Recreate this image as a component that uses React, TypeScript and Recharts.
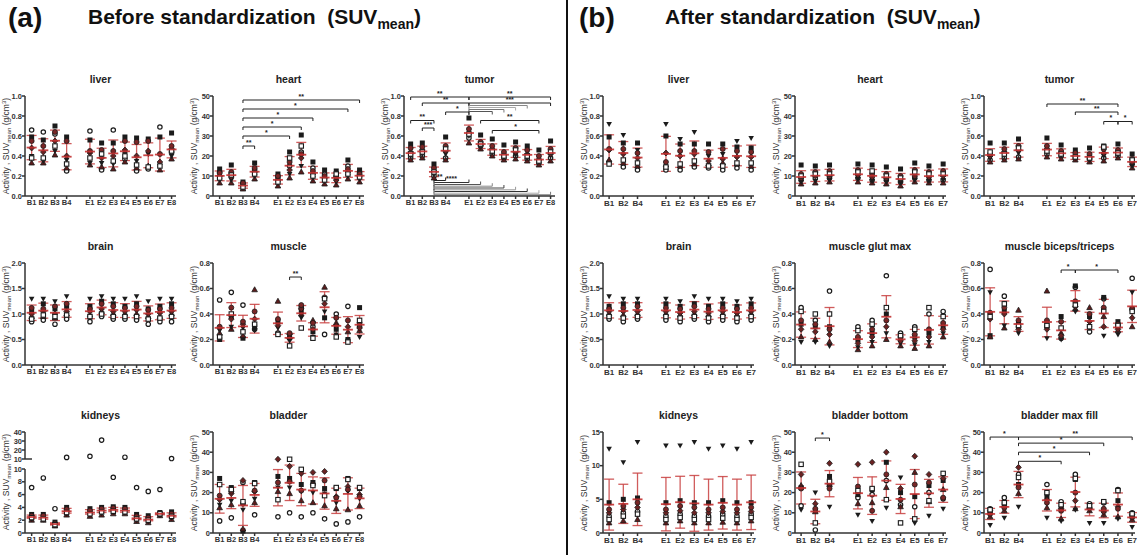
import React from 'react';
import { ScatterChart, Scatter, XAxis, YAxis, ErrorBar, ReferenceLine } from 'recharts';

// ---------- categories ----------
const CATS_A = ['B1', 'B2', 'B3', 'B4', 'E1', 'E2', 'E3', 'E4', 'E5', 'E6', 'E7', 'E8'];
const POS_A = [1, 2, 3, 4, 6, 7, 8, 9, 10, 11, 12, 13];
const CATS_B = ['B1', 'B2', 'B4', 'E1', 'E2', 'E3', 'E4', 'E5', 'E6', 'E7'];
const POS_B = [1, 2, 3, 5, 6, 7, 8, 9, 10, 11];

// ---------- tick labels ----------
const T_1 = [0, 0.2, 0.4, 0.6, 0.8, 1.0];
const T_2 = [0, 0.5, 1.0, 1.5, 2.0];
const T_08 = [0, 0.2, 0.4, 0.6, 0.8];
const T_50 = [0, 10, 20, 30, 40, 50];
const T_K_LOW = [0, 2, 4, 6, 8, 10];
const T_K_UP = [10, 20, 30, 40];
const T_15 = [0, 5, 10, 15];

// each row: values of animals per category
// [open circle, black square, triangle, inv. triangle, diamond, red circle, open square]
const liverA = [
  [0.66, 0.59, 0.33, 0.40, 0.48, 0.55, 0.38],
  [0.64, 0.56, 0.33, 0.35, 0.44, 0.50, 0.38],
  [0.62, 0.70, 0.41, 0.45, 0.55, 0.64, 0.50],
  [0.25, 0.59, 0.28, 0.36, 0.40, 0.55, 0.32],
  [0.65, 0.56, 0.31, 0.33, 0.43, 0.45, 0.38],
  [0.26, 0.53, 0.29, 0.33, 0.38, 0.46, 0.42],
  [0.66, 0.53, 0.27, 0.32, 0.40, 0.45, 0.35],
  [0.37, 0.59, 0.34, 0.42, 0.46, 0.55, 0.40],
  [0.25, 0.58, 0.28, 0.35, 0.40, 0.54, 0.31],
  [0.27, 0.57, 0.30, 0.42, 0.45, 0.55, 0.29],
  [0.69, 0.59, 0.26, 0.30, 0.34, 0.42, 0.30],
  [0.44, 0.63, 0.37, 0.40, 0.47, 0.50, 0.45],
];
const heartA = [
  [12, 13.5, 6.5, 8, 10, 11.5, 9],
  [11, 15.5, 6.5, 8, 9.5, 12, 10.5],
  [6, 7, 3.5, 4, 5, 6.5, 4.5],
  [13, 16.5, 8.5, 10, 12, 14, 11],
  [9, 11, 5, 6.5, 8, 10, 7],
  [15, 22, 9, 11, 13, 17, 19],
  [22, 30.5, 12, 15, 19, 21, 25],
  [14, 17, 7.5, 9, 11, 12.5, 10],
  [11, 13, 6, 7.5, 9, 10, 8],
  [10, 12.5, 5.5, 7, 8, 9.5, 11],
  [15, 18, 8.5, 10, 12, 13.5, 11],
  [12, 13, 7, 8.5, 10, 11, 9.5],
];
const tumorA = [
  [0.38, 0.52, 0.36, 0.40, 0.44, 0.48, 0.42],
  [0.40, 0.53, 0.38, 0.42, 0.46, 0.49, 0.44],
  [0.20, 0.32, 0.18, 0.22, 0.25, 0.28, 0.24],
  [0.38, 0.59, 0.36, 0.42, 0.45, 0.50, 0.47],
  [0.58, 0.78, 0.53, 0.60, 0.63, 0.67, 0.62],
  [0.50, 0.61, 0.47, 0.49, 0.51, 0.54, 0.52],
  [0.42, 0.57, 0.40, 0.44, 0.47, 0.50, 0.45],
  [0.38, 0.51, 0.36, 0.39, 0.41, 0.44, 0.40],
  [0.40, 0.54, 0.37, 0.41, 0.44, 0.48, 0.46],
  [0.37, 0.50, 0.35, 0.38, 0.42, 0.46, 0.40],
  [0.33, 0.46, 0.31, 0.34, 0.36, 0.40, 0.35],
  [0.38, 0.55, 0.35, 0.40, 0.42, 0.47, 0.44],
];
const brainA = [
  [0.85, 1.05, 0.95, 1.30, 1.00, 1.12, 0.90],
  [0.88, 1.20, 0.95, 1.30, 1.05, 1.10, 0.98],
  [0.80, 1.10, 0.92, 1.25, 1.00, 1.15, 0.95],
  [0.90, 1.15, 1.00, 1.35, 1.05, 1.20, 0.98],
  [0.85, 1.15, 0.98, 1.30, 1.05, 1.10, 0.95],
  [0.95, 1.25, 1.05, 1.35, 1.10, 1.20, 1.00],
  [0.90, 1.20, 1.00, 1.30, 1.05, 1.15, 0.95],
  [0.90, 1.15, 1.00, 1.30, 1.05, 1.12, 0.95],
  [0.88, 1.20, 1.00, 1.35, 1.08, 1.15, 0.95],
  [0.80, 1.10, 0.95, 1.25, 1.00, 1.08, 0.90],
  [0.85, 1.15, 0.95, 1.30, 1.02, 1.10, 0.92],
  [0.85, 1.20, 1.00, 1.30, 1.05, 1.12, 0.95],
];
const muscleA = [
  [0.51, 0.20, 0.25, 0.27, 0.29, 0.30, 0.22],
  [0.57, 0.38, 0.28, 0.30, 0.36, 0.45, 0.40],
  [0.47, 0.21, 0.23, 0.29, 0.32, 0.34, 0.26],
  [0.28, 0.30, 0.59, 0.27, 0.36, 0.42, 0.32],
  [0.25, 0.34, 0.50, 0.29, 0.31, 0.36, 0.24],
  [0.21, 0.23, 0.22, 0.19, 0.24, 0.25, 0.15],
  [0.45, 0.42, 0.40, 0.37, 0.44, 0.47, 0.29],
  [0.30, 0.26, 0.35, 0.22, 0.28, 0.33, 0.21],
  [0.24, 0.37, 0.61, 0.42, 0.48, 0.53, 0.52],
  [0.40, 0.28, 0.33, 0.24, 0.31, 0.37, 0.22],
  [0.46, 0.20, 0.26, 0.19, 0.30, 0.35, 0.18],
  [0.30, 0.45, 0.27, 0.22, 0.29, 0.33, 0.35],
];
const kidneysA = [
  [7.1, 2.9, 2.0, 2.2, 2.5, 2.7, 2.4],
  [8.6, 2.9, 2.0, 2.1, 2.4, 2.7, 2.2],
  [3.8, 1.7, 1.1, 1.2, 1.4, 1.5, 1.3],
  [11.8, 4.0, 2.8, 3.0, 3.4, 3.7, 3.2],
  [13.0, 3.8, 2.6, 2.9, 3.2, 3.5, 3.0],
  [31.0, 4.0, 2.8, 3.1, 3.5, 3.8, 3.3],
  [8.7, 4.1, 3.0, 3.3, 3.6, 3.9, 3.4],
  [12.0, 4.0, 3.0, 3.2, 3.5, 3.8, 3.3],
  [7.1, 2.9, 1.8, 2.0, 2.3, 2.6, 2.2],
  [6.5, 2.7, 1.6, 1.8, 2.1, 2.4, 2.0],
  [6.8, 3.2, 2.7, 2.8, 2.9, 3.1, 3.0],
  [10.5, 3.3, 2.1, 2.4, 2.7, 3.0, 2.6],
];
const bladderA = [
  [6, 27, 12.5, 14, 16.5, 18.5, 24],
  [7.5, 22.5, 14, 16, 19.5, 20.5, 21.5],
  [25, 1.0, 2.0, 11.5, 26, 14.5, 15.5],
  [9, 25, 15, 17, 20.5, 21, 24.5],
  [8, 28, 20.5, 22.5, 36.5, 25, 16.5],
  [10, 27, 19.5, 22.5, 33, 25.5, 36.5],
  [8, 24, 16, 20.5, 29.5, 21, 31.5],
  [10, 25, 15, 20, 30, 24, 23.5],
  [7, 22, 13.5, 19.5, 30.5, 26, 18.5],
  [4.5, 22, 12, 15, 18, 17.5, 22.5],
  [5.5, 27, 11.5, 20.5, 23, 21.5, 26.5],
  [8, 22, 13.5, 17, 19, 18, 22.5],
];

const liverB = [
  [0.34, 0.59, 0.36, 0.72, 0.46, 0.47, 0.32],
  [0.29, 0.53, 0.33, 0.61, 0.42, 0.47, 0.36],
  [0.26, 0.53, 0.30, 0.46, 0.38, 0.43, 0.33],
  [0.26, 0.60, 0.31, 0.72, 0.43, 0.34, 0.29],
  [0.26, 0.52, 0.30, 0.57, 0.40, 0.45, 0.32],
  [0.29, 0.52, 0.32, 0.64, 0.42, 0.45, 0.35],
  [0.28, 0.52, 0.32, 0.40, 0.35, 0.44, 0.30],
  [0.26, 0.52, 0.33, 0.42, 0.37, 0.47, 0.30],
  [0.28, 0.49, 0.32, 0.55, 0.39, 0.45, 0.33],
  [0.26, 0.48, 0.30, 0.58, 0.39, 0.44, 0.33],
];
const heartB = [
  [8, 15.5, 6, 7, 9, 11, 10],
  [9, 15, 6.5, 7.5, 10, 12, 11],
  [9, 15.5, 7, 8, 10, 12.5, 11],
  [9, 16, 7, 8.5, 10.5, 13, 12],
  [8, 15.5, 6.5, 7.5, 9.5, 11, 12.5],
  [8, 14.5, 6, 7, 9, 11, 10],
  [7, 13.5, 5, 6.5, 8.5, 10, 9],
  [9, 16.5, 7, 8, 10, 13, 12],
  [8, 15, 6.5, 7.5, 9.5, 12, 11],
  [8, 16, 6.5, 8, 10, 12.5, 11],
];
const tumorB = [
  [0.36, 0.53, 0.34, 0.38, 0.40, 0.42, 0.44],
  [0.38, 0.53, 0.36, 0.41, 0.44, 0.47, 0.42],
  [0.39, 0.57, 0.37, 0.43, 0.46, 0.50, 0.48],
  [0.42, 0.58, 0.39, 0.44, 0.47, 0.50, 0.45],
  [0.40, 0.51, 0.37, 0.41, 0.43, 0.45, 0.42],
  [0.38, 0.46, 0.36, 0.38, 0.40, 0.43, 0.39],
  [0.37, 0.48, 0.34, 0.36, 0.39, 0.42, 0.38],
  [0.38, 0.50, 0.35, 0.40, 0.43, 0.47, 0.49],
  [0.40, 0.52, 0.38, 0.41, 0.44, 0.46, 0.43],
  [0.32, 0.42, 0.28, 0.30, 0.34, 0.37, 0.36],
];
const brainB = [
  [0.90, 1.15, 1.00, 1.35, 1.05, 1.10, 0.95],
  [0.85, 1.20, 0.98, 1.30, 1.05, 1.12, 0.92],
  [0.90, 1.20, 1.00, 1.30, 1.05, 1.15, 0.95],
  [0.88, 1.20, 1.00, 1.30, 1.05, 1.12, 0.95],
  [0.85, 1.15, 0.98, 1.25, 1.02, 1.10, 0.92],
  [0.90, 1.20, 1.00, 1.35, 1.05, 1.15, 0.95],
  [0.85, 1.15, 0.98, 1.30, 1.02, 1.10, 0.92],
  [0.88, 1.20, 1.00, 1.30, 1.05, 1.12, 0.95],
  [0.85, 1.15, 0.98, 1.25, 1.02, 1.10, 0.92],
  [0.88, 1.20, 1.00, 1.30, 1.05, 1.12, 0.95],
];
const glutB = [
  [0.45, 0.32, 0.22, 0.18, 0.28, 0.35, 0.42],
  [0.35, 0.30, 0.20, 0.18, 0.26, 0.32, 0.40],
  [0.58, 0.30, 0.18, 0.15, 0.24, 0.28, 0.40],
  [0.30, 0.20, 0.12, 0.14, 0.17, 0.22, 0.27],
  [0.35, 0.25, 0.15, 0.18, 0.22, 0.28, 0.32],
  [0.70, 0.40, 0.20, 0.25, 0.30, 0.35, 0.45],
  [0.25, 0.20, 0.15, 0.17, 0.19, 0.22, 0.23],
  [0.30, 0.22, 0.13, 0.16, 0.19, 0.24, 0.28],
  [0.40, 0.25, 0.15, 0.18, 0.22, 0.28, 0.45],
  [0.42, 0.30, 0.22, 0.25, 0.28, 0.33, 0.38],
];
const bicepsB = [
  [0.75, 0.23, 0.22, 0.57, 0.36, 0.41, 0.38],
  [0.54, 0.42, 0.29, 0.31, 0.40, 0.45, 0.48],
  [0.30, 0.33, 0.43, 0.25, 0.28, 0.35, 0.31],
  [0.30, 0.33, 0.58, 0.21, 0.28, 0.35, 0.31],
  [0.21, 0.38, 0.25, 0.20, 0.23, 0.34, 0.29],
  [0.61, 0.62, 0.44, 0.42, 0.46, 0.50, 0.47],
  [0.26, 0.38, 0.45, 0.29, 0.34, 0.40, 0.30],
  [0.52, 0.53, 0.38, 0.23, 0.30, 0.45, 0.42],
  [0.30, 0.34, 0.27, 0.24, 0.28, 0.32, 0.31],
  [0.68, 0.44, 0.30, 0.57, 0.37, 0.44, 0.42],
];
const kidneysB = [
  [2.5, 4.5, 1.5, 12.5, 3.0, 3.5, 2.0],
  [3.0, 5.0, 1.8, 10.5, 3.5, 4.0, 2.5],
  [3.2, 5.2, 2.0, 13.5, 3.8, 4.5, 2.8],
  [2.5, 4.5, 1.5, 13.0, 3.0, 3.5, 2.0],
  [2.8, 4.8, 1.8, 13.0, 3.3, 4.0, 2.3],
  [2.5, 4.5, 1.5, 13.5, 3.0, 3.8, 2.0],
  [2.5, 4.5, 1.5, 12.5, 3.0, 3.5, 2.0],
  [2.8, 4.8, 1.6, 13.0, 3.2, 3.8, 2.2],
  [2.5, 4.5, 1.5, 12.5, 3.0, 3.5, 2.0],
  [2.8, 4.5, 1.8, 13.5, 3.2, 3.8, 2.3],
];
const bladBottomB = [
  [13.5, 22.5, 23.5, 11.5, 29, 22, 34],
  [1.5, 11, 10.5, 20, 14.5, 12, 5],
  [24, 28, 24, 13, 34.5, 22, 25.5],
  [17.5, 19, 14.5, 9, 34, 23, 21],
  [19, 21.5, 15, 6, 35, 11, 22],
  [26, 35, 22.5, 12.5, 40, 29, 16.5],
  [14, 20, 13, 27.5, 22, 16.5, 5],
  [13, 18, 30, 5, 38, 24, 7],
  [20, 23.5, 15.5, 8.5, 29, 25, 16],
  [17, 26, 21.5, 12, 27, 17.5, 29.5],
];
const bladMaxB = [
  [12, 10, 8, 4, 11, 9.5, 11.5],
  [17.5, 14, 11, 7.5, 13, 12.5, 15],
  [29, 24, 19.5, 13, 32.5, 22.5, 27.5],
  [24, 18, 12.5, 7.5, 16.5, 15, 20],
  [15.5, 13, 7, 6, 12, 11, 14],
  [29, 26.5, 12, 11.5, 16, 20, 27],
  [14.5, 13, 11, 5, 12, 12.5, 13.5],
  [15, 11, 9, 5, 10.5, 12, 15.5],
  [21.5, 16, 8, 7, 13, 12, 21],
  [10, 8, 6.5, 3, 9, 8, 9.5],
];

// ---------- significance brackets ----------
type Br = { a: string; b: string; y: number; label?: string; color?: string; up?: boolean };
const heartBrA: Br[] = [
  { a: 'B3', b: 'B4', y: 25, label: '**' },
  { a: 'B3', b: 'E2', y: 30, label: '*' },
  { a: 'B3', b: 'E3', y: 34.5, label: '*' },
  { a: 'B3', b: 'E4', y: 39, label: '*' },
  { a: 'B3', b: 'E7', y: 43.5, label: '*' },
  { a: 'B3', b: 'E8', y: 48, label: '**' },
];
const tumorBrA: Br[] = [
  { a: 'B1', b: 'E1', y: 0.99, label: '**' },
  { a: 'E1', b: 'E8', y: 0.99, label: '**' },
  { a: 'B2', b: 'E1', y: 0.93, label: '**' },
  { a: 'E1', b: 'E8', y: 0.93, label: '***' },
  { a: 'E1', b: 'E6', y: 0.905, color: '#888' },
  { a: 'E1', b: 'E5', y: 0.885, color: '#aaa' },
  { a: 'E1', b: 'E4', y: 0.865, color: '#777' },
  { a: 'E1', b: 'E3', y: 0.845, color: '#555' },
  { a: 'B4', b: 'E1', y: 0.84, label: '*' },
  { a: 'B1', b: 'B3', y: 0.755, label: '**' },
  { a: 'B2', b: 'B3', y: 0.68, label: '***' },
  { a: 'E2', b: 'E7', y: 0.755, label: '**' },
  { a: 'E3', b: 'E7', y: 0.655, label: '*' },
  { a: 'B3', b: 'B4', y: 0.155, label: '**', up: true },
  { a: 'B3', b: 'E1', y: 0.135, label: '****', up: true, color: '#333' },
  { a: 'B3', b: 'E2', y: 0.115, up: true, color: '#555' },
  { a: 'B3', b: 'E3', y: 0.098, up: true, color: '#888' },
  { a: 'B3', b: 'E4', y: 0.08, up: true, color: '#444' },
  { a: 'B3', b: 'E5', y: 0.062, up: true, color: '#999' },
  { a: 'B3', b: 'E6', y: 0.045, up: true, color: '#333' },
  { a: 'B3', b: 'E7', y: 0.028, up: true, color: '#aaa' },
  { a: 'B3', b: 'E8', y: 0.012, up: true, color: '#777' },
];
const muscleBrA: Br[] = [{ a: 'E2', b: 'E3', y: 0.69, label: '**' }];
const tumorBrB: Br[] = [
  { a: 'E1', b: 'E6', y: 0.92, label: '**' },
  { a: 'E3', b: 'E6', y: 0.84, label: '**' },
  { a: 'E5', b: 'E6', y: 0.745, label: '*' },
  { a: 'E6', b: 'E7', y: 0.745, label: '*' },
];
const bicepsBrB: Br[] = [
  { a: 'E2', b: 'E3', y: 0.745, label: '*' },
  { a: 'E3', b: 'E6', y: 0.745, label: '*' },
];
const bladBottomBrB: Br[] = [{ a: 'B2', b: 'B4', y: 47, label: '*' }];
const bladMaxBrB: Br[] = [
  { a: 'B1', b: 'B4', y: 47.5, label: '*' },
  { a: 'B4', b: 'E7', y: 47.5, label: '**' },
  { a: 'B4', b: 'E5', y: 44.5, label: '*' },
  { a: 'B4', b: 'E4', y: 40, label: '*' },
  { a: 'B4', b: 'E2', y: 35.5, label: '*' },
];

// ---------- layout ----------
const FONT = '"Liberation Sans", Arial, Helvetica, sans-serif';
const YW = 34;
const PW = 151;
const MR = 8;
const MT = 14;
const XH = 16;
const DOM_A: [number, number] = [0.43, 13.38];
const DOM_B: [number, number] = [0.57, 11.2];
const COLS_A = [25, 213, 404];
const COLS_B = [603, 794.5, 984];
const ROWS = [
  { top: 96, h: 100 },
  { top: 263, h: 102 },
  { top: 432, h: 101 },
];

const f1 = (v: number) => v.toFixed(1);
const f0 = (v: number) => String(v);

function Marker(props: any) {
  const { cx, cy, kind } = props;
  if (cx == null || cy == null || isNaN(cx) || isNaN(cy)) return null;
  const s = '#1b1b1b';
  switch (kind) {
    case 0:
      return <circle cx={cx} cy={cy} r={2.2} fill="#fff" stroke={s} strokeWidth={1.2} />;
    case 1:
      return <rect x={cx - 2.5} y={cy - 2.5} width={5} height={5} fill="#1b1b1b" />;
    case 2:
      return <polygon points={`${cx},${cy - 3} ${cx + 2.8},${cy + 2} ${cx - 2.8},${cy + 2}`} fill="#5c1c1c" stroke={s} strokeWidth={0.8} />;
    case 3:
      return <polygon points={`${cx - 2.8},${cy - 2} ${cx + 2.8},${cy - 2} ${cx},${cy + 3}`} fill="#1b1b1b" />;
    case 4:
      return <polygon points={`${cx},${cy - 3} ${cx + 2.8},${cy} ${cx},${cy + 3} ${cx - 2.8},${cy}`} fill="#6a2222" stroke={s} strokeWidth={0.8} />;
    case 5:
      return <circle cx={cx} cy={cy} r={2.5} fill="#7a2626" stroke={s} strokeWidth={0.8} />;
    default:
      return <rect x={cx - 2.2} y={cy - 2.2} width={4.4} height={4.4} fill="#fff" stroke={s} strokeWidth={1.1} />;
  }
}

function stats(vals: number[], mode: string): [number, number, number] {
  const v = vals.slice().sort((a, b) => a - b);
  if (mode === 'iqr') {
    const q = (p: number) => {
      const i = (v.length - 1) * p;
      const lo = Math.floor(i);
      const hi = Math.ceil(i);
      return v[lo] + (v[hi] - v[lo]) * (i - lo);
    };
    return [q(0.5), q(0.25), q(0.75)];
  }
  const m = v.reduce((a, b) => a + b, 0) / v.length;
  const sd = Math.sqrt(v.reduce((a, b) => a + (b - m) * (b - m), 0) / (v.length - 1));
  return [m, m - sd, m + sd];
}

type PlotProps = {
  cats: string[];
  pos: number[];
  xDomain: [number, number];
  values: number[][];
  yDomain: [number, number];
  yTicks: number[];
  yFmt: (v: number) => string;
  axisX: number;
  plotTop: number;
  plotH: number;
  xFont: number;
  brackets?: Br[];
  stat?: string;
  hideX?: boolean;
  keep?: (v: number) => boolean;
  showStats?: boolean;
  breakMark?: boolean;
};

const yTickStyle = { fontSize: 7.5, fill: '#333', fontFamily: FONT, fontWeight: 700 };

function Plot(p: PlotProps) {
  const keep = p.keep || (() => true);
  const width = YW + PW + MR;
  const height = MT + p.plotH + (p.hideX ? 7 : XH);
  const span = p.yDomain[1] - p.yDomain[0];
  const tl = (span * 3) / p.plotH;
  const series = [0, 1, 2, 3, 4, 5, 6].map((k) =>
    p.cats
      .map((c, i) => ({ x: p.pos[i], y: p.values[i][k] }))
      .filter((d) => d.y != null && keep(d.y))
  );
  const means = p.cats.map((c, i) => {
    const [m, lo, hi] = stats(p.values[i], p.stat || 'sd');
    const l = Math.max(lo, p.yDomain[0]);
    const h = Math.min(hi, p.yDomain[1]);
    return { x: p.pos[i], y: m, err: [m - l, h - m] };
  });
  const posOf = (c: string) => p.pos[p.cats.indexOf(c)];
  const brs = p.brackets || [];
  const labels = brs
    .filter((b) => b.label)
    .map((b) => ({ x: (posOf(b.a) + posOf(b.b)) / 2, y: b.y, label: b.label }));
  const lines: any[] = [];
  brs.forEach((b, i) => {
    const x1 = posOf(b.a);
    const x2 = posOf(b.b);
    const col = b.color || '#222';
    const ty = b.up ? b.y + tl : b.y - tl;
    lines.push(<ReferenceLine key={`h${i}`} segment={[{ x: x1, y: b.y }, { x: x2, y: b.y }]} stroke={col} strokeWidth={1} ifOverflow="visible" />);
    lines.push(<ReferenceLine key={`a${i}`} segment={[{ x: x1, y: b.y }, { x: x1, y: ty }]} stroke={col} strokeWidth={1} ifOverflow="visible" />);
    lines.push(<ReferenceLine key={`b${i}`} segment={[{ x: x2, y: b.y }, { x: x2, y: ty }]} stroke={col} strokeWidth={1} ifOverflow="visible" />);
  });
  if (p.breakMark) {
    lines.push(
      <ReferenceLine key="brk" segment={[{ x: p.xDomain[0], y: p.yDomain[0] }, { x: p.xDomain[0] + 0.6, y: p.yDomain[0] }]} stroke="#333" strokeWidth={1.5} ifOverflow="visible" />
    );
  }
  return (
    <div style={{ position: 'absolute', left: p.axisX - YW, top: p.plotTop - MT }}>
      <ScatterChart width={width} height={height} margin={{ top: MT, right: MR, bottom: p.hideX ? 7 : 0, left: 0 }}>
        <XAxis
          type="number"
          dataKey="x"
          domain={p.xDomain}
          ticks={p.pos}
          interval={0}
          tickFormatter={(v: number) => p.cats[p.pos.indexOf(v)] ?? ''}
          hide={p.hideX}
          height={XH}
          tick={{ ...yTickStyle, fontSize: p.xFont }}
          tickSize={3}
          tickMargin={1}
          stroke="#333"
          strokeWidth={1.5}
        />
        <YAxis
          type="number"
          dataKey="y"
          domain={p.yDomain}
          ticks={p.yTicks}
          interval={0}
          width={YW}
          tickFormatter={p.yFmt}
          tick={yTickStyle}
          tickSize={3}
          tickMargin={0}
          stroke="#333"
          strokeWidth={1.5}
        />
        {lines}
        {series.map((d, k) => (
          <Scatter key={k} data={d} isAnimationActive={false} shape={(sp: any) => <Marker {...sp} kind={k} />} />
        ))}
        {p.showStats !== false && (
          <Scatter
            data={means}
            isAnimationActive={false}
            shape={(sp: any) =>
              sp.cx == null ? null : (
                <line x1={sp.cx - 5} x2={sp.cx + 5} y1={sp.cy} y2={sp.cy} stroke="#c23030" strokeWidth={1.8} strokeOpacity={0.9} />
              )
            }
          >
            <ErrorBar dataKey="err" direction="y" width={5} stroke="#c84040" strokeWidth={1.3} strokeOpacity={0.85} />
          </Scatter>
        )}
        {labels.length > 0 && (
          <Scatter
            data={labels}
            isAnimationActive={false}
            shape={(sp: any) =>
              sp.cx == null ? null : (
                <text x={sp.cx} y={sp.cy - 1.5} textAnchor="middle" fontSize={7} fontWeight={700} fontFamily={FONT} fill="#222">
                  {sp.payload.label}
                </text>
              )
            }
          />
        )}
      </ScatterChart>
    </div>
  );
}

function Title({ text, axisX, plotTop }: { text: string; axisX: number; plotTop: number }) {
  return (
    <div
      style={{
        position: 'absolute',
        left: axisX + PW / 2 - 100,
        width: 200,
        top: plotTop - 23,
        textAlign: 'center',
        fontFamily: FONT,
        fontWeight: 700,
        fontSize: 10.5,
        lineHeight: '12px',
        color: '#222',
      }}
    >
      {text}
    </div>
  );
}

function YLabel({ axisX, cy }: { axisX: number; cy: number }) {
  return (
    <div
      style={{
        position: 'absolute',
        left: axisX - 18,
        top: cy,
        transform: 'translate(-50%, -50%) rotate(-90deg)',
        whiteSpace: 'nowrap',
        fontFamily: FONT,
        fontSize: 8.5,
        lineHeight: '9px',
        color: '#333',
      }}
    >
      Activity , SUV<span style={{ fontSize: 6, verticalAlign: '-2px' }}>mean</span> (g/cm<span style={{ fontSize: 6, verticalAlign: '3px' }}>3</span>)
    </div>
  );
}

type Spec = {
  title: string;
  col: number;
  row: number;
  values: number[][];
  yDomain: [number, number];
  yTicks: number[];
  yFmt: (v: number) => string;
  brackets?: Br[];
};

const SPECS_A: Spec[] = [
  { title: 'liver', col: 0, row: 0, values: liverA, yDomain: [0, 1], yTicks: T_1, yFmt: f1 },
  { title: 'heart', col: 1, row: 0, values: heartA, yDomain: [0, 50], yTicks: T_50, yFmt: f0, brackets: heartBrA },
  { title: 'tumor', col: 2, row: 0, values: tumorA, yDomain: [0, 1], yTicks: T_1, yFmt: f1, brackets: tumorBrA },
  { title: 'brain', col: 0, row: 1, values: brainA, yDomain: [0, 2], yTicks: T_2, yFmt: f1 },
  { title: 'muscle', col: 1, row: 1, values: muscleA, yDomain: [0, 0.8], yTicks: T_08, yFmt: f1, brackets: muscleBrA },
  { title: 'bladder', col: 1, row: 2, values: bladderA, yDomain: [0, 50], yTicks: T_50, yFmt: f0 },
];
const SPECS_B: Spec[] = [
  { title: 'liver', col: 0, row: 0, values: liverB, yDomain: [0, 1], yTicks: T_1, yFmt: f1 },
  { title: 'heart', col: 1, row: 0, values: heartB, yDomain: [0, 50], yTicks: T_50, yFmt: f0 },
  { title: 'tumor', col: 2, row: 0, values: tumorB, yDomain: [0, 1], yTicks: T_1, yFmt: f1, brackets: tumorBrB },
  { title: 'brain', col: 0, row: 1, values: brainB, yDomain: [0, 2], yTicks: T_2, yFmt: f1 },
  { title: 'muscle glut max', col: 1, row: 1, values: glutB, yDomain: [0, 0.8], yTicks: T_08, yFmt: f1 },
  { title: 'muscle biceps/triceps', col: 2, row: 1, values: bicepsB, yDomain: [0, 0.8], yTicks: T_08, yFmt: f1, brackets: bicepsBrB },
  { title: 'kidneys', col: 0, row: 2, values: kidneysB, yDomain: [0, 15], yTicks: T_15, yFmt: f0 },
  { title: 'bladder bottom', col: 1, row: 2, values: bladBottomB, yDomain: [0, 50], yTicks: T_50, yFmt: f0, brackets: bladBottomBrB },
  { title: 'bladder max fill', col: 2, row: 2, values: bladMaxB, yDomain: [0, 50], yTicks: T_50, yFmt: f0, brackets: bladMaxBrB },
];

function Panel({ specs, cols, cats, pos, dom, xFont }: any) {
  return (
    <>
      {specs.map((s: Spec, i: number) => {
        const axisX = cols[s.col];
        const r = ROWS[s.row];
        return (
          <React.Fragment key={i}>
            <Title text={s.title} axisX={axisX} plotTop={r.top} />
            <YLabel axisX={axisX} cy={r.top + r.h / 2} />
            <Plot
              cats={cats}
              pos={pos}
              xDomain={dom}
              values={s.values}
              yDomain={s.yDomain}
              yTicks={s.yTicks}
              yFmt={s.yFmt}
              axisX={axisX}
              plotTop={r.top}
              plotH={r.h}
              xFont={xFont}
              brackets={s.brackets}
            />
          </React.Fragment>
        );
      })}
    </>
  );
}

const headStyle: React.CSSProperties = {
  position: 'absolute',
  fontFamily: FONT,
  fontWeight: 700,
  lineHeight: 1,
  color: '#111',
  whiteSpace: 'nowrap',
};

export default function App() {
  const kx = COLS_A[0];
  return (
    <div style={{ position: 'absolute', left: 0, top: 0, width: 1137, height: 555, background: '#fff', overflow: 'hidden' }}>
      <div style={{ ...headStyle, left: 8, top: 4, fontSize: 28 }}>(a)</div>
      <div style={{ ...headStyle, left: 88, top: 5.5, fontSize: 21 }}>
        Before standardization&nbsp; (SUV<span style={{ fontSize: 14, verticalAlign: '-5px' }}>mean</span>)
      </div>
      <div style={{ ...headStyle, left: 579, top: 4, fontSize: 28 }}>(b)</div>
      <div style={{ ...headStyle, left: 665, top: 5.5, fontSize: 21 }}>
        After standardization&nbsp; (SUV<span style={{ fontSize: 14, verticalAlign: '-5px' }}>mean</span>)
      </div>
      <div style={{ position: 'absolute', left: 566, top: 0, width: 2, height: 555, background: '#111' }} />

      <Panel specs={SPECS_A} cols={COLS_A} cats={CATS_A} pos={POS_A} dom={DOM_A} xFont={7.5} />
      <Panel specs={SPECS_B} cols={COLS_B} cats={CATS_B} pos={POS_B} dom={DOM_B} xFont={8} />

      {/* kidneys (a) with broken axis */}
      <Title text="kidneys" axisX={kx} plotTop={432} />
      <YLabel axisX={kx} cy={482} />
      <Plot
        cats={CATS_A}
        pos={POS_A}
        xDomain={DOM_A}
        values={kidneysA}
        yDomain={[10, 40]}
        yTicks={T_K_UP}
        yFmt={f0}
        axisX={kx}
        plotTop={432}
        plotH={27}
        xFont={7.5}
        hideX
        keep={(v) => v > 10}
        showStats={false}
        breakMark
      />
      <Plot
        cats={CATS_A}
        pos={POS_A}
        xDomain={DOM_A}
        values={kidneysA}
        yDomain={[0, 10]}
        yTicks={T_K_LOW}
        yFmt={f0}
        axisX={kx}
        plotTop={469}
        plotH={64}
        xFont={7.5}
        keep={(v) => v <= 10}
        stat="iqr"
      />
    </div>
  );
}
